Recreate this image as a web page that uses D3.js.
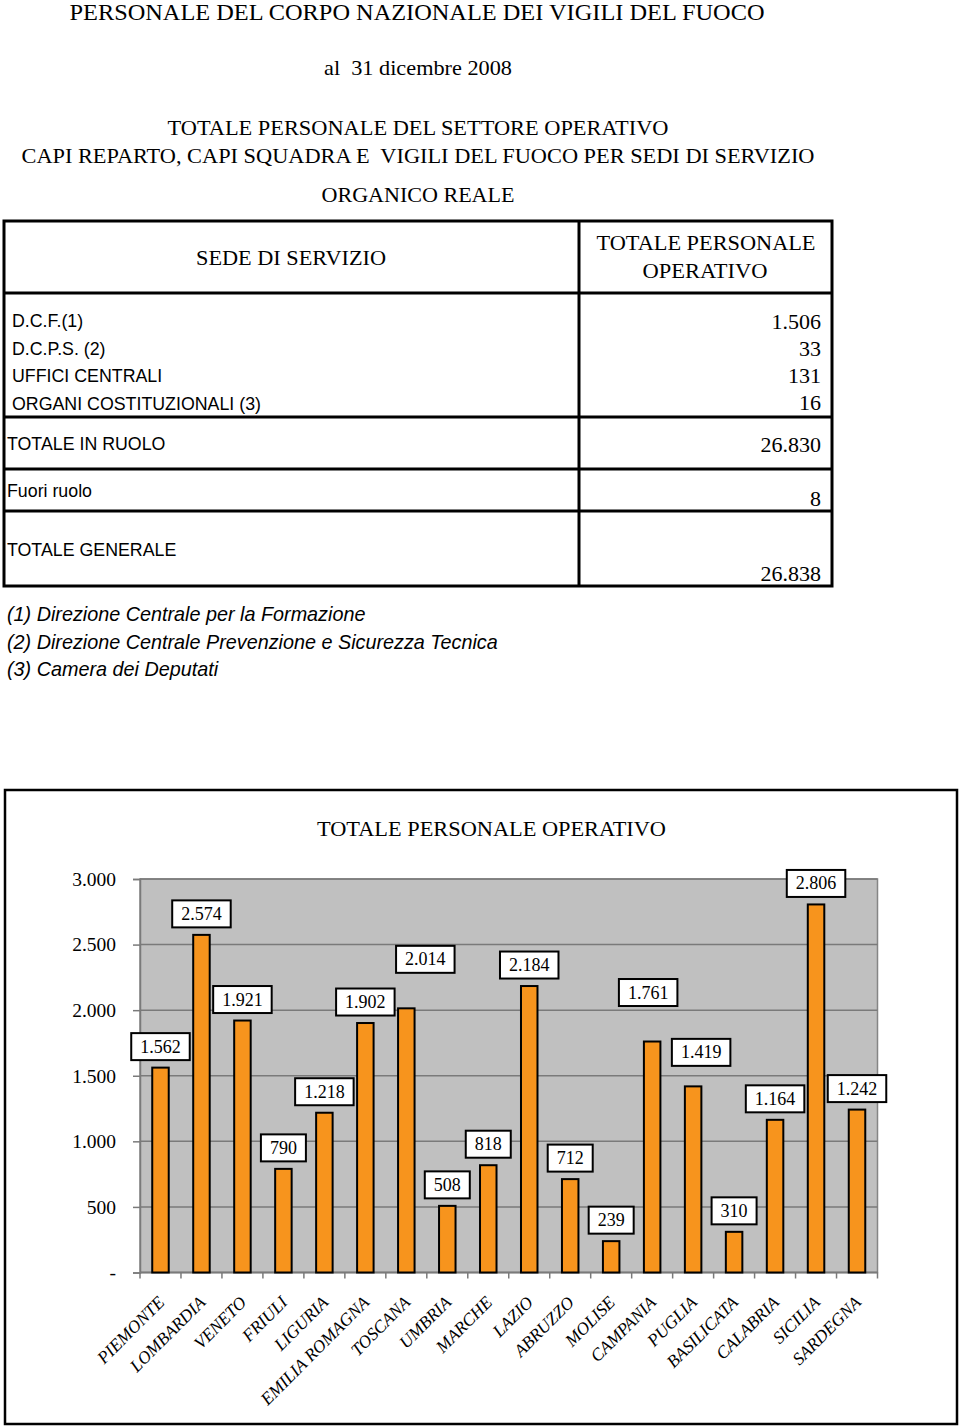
<!DOCTYPE html>
<html>
<head>
<meta charset="utf-8">
<script src="https://cdn.jsdelivr.net/npm/d3@7/dist/d3.min.js"></script>
<style>
  html, body { margin: 0; padding: 0; background: #fff; }
  svg { display: block; }
</style>
</head>
<body>
<div id="chart"></div>
<script>
// ---------------- DATA ----------------
const headingLines = [
  "PERSONALE DEL CORPO NAZIONALE DEI VIGILI DEL FUOCO",
  "al  31 dicembre 2008",
  "TOTALE PERSONALE DEL SETTORE OPERATIVO",
  "CAPI REPARTO, CAPI SQUADRA E  VIGILI DEL FUOCO PER SEDI DI SERVIZIO",
  "ORGANICO REALE"
];
const tableHeader = ["SEDE DI SERVIZIO", "TOTALE PERSONALE", "OPERATIVO"];
const sedi = ["D.C.F.(1)", "D.C.P.S. (2)", "UFFICI CENTRALI", "ORGANI COSTITUZIONALI (3)"];
const sediValori = [1506, 33, 131, 16];
const totaliEtichette = ["TOTALE IN RUOLO", "Fuori ruolo", "TOTALE GENERALE"];
const totaliValori = [26830, 8, 26838];
const noteLines = [
  "(1) Direzione Centrale per la Formazione",
  "(2) Direzione Centrale Prevenzione e Sicurezza Tecnica",
  "(3) Camera dei Deputati"
];

const chartTitle = "TOTALE PERSONALE OPERATIVO";
const regioni = ["PIEMONTE", "LOMBARDIA", "VENETO", "FRIULI", "LIGURIA", "EMILIA ROMAGNA",
  "TOSCANA", "UMBRIA", "MARCHE", "LAZIO", "ABRUZZO", "MOLISE", "CAMPANIA", "PUGLIA",
  "BASILICATA", "CALABRIA", "SICILIA", "SARDEGNA"];
const personale = [1562, 2574, 1921, 790, 1218, 1902, 2014, 508, 818, 2184, 712, 239,
  1761, 1419, 310, 1164, 2806, 1242];
const yTicks = [0, 500, 1000, 1500, 2000, 2500, 3000];

// ---------------- LAYOUT / STYLE ----------------
const W = 960, H = 1427;
const serif = "'Liberation Serif', 'Times New Roman', serif";
const sans = "'Liberation Sans', Arial, sans-serif";
const it = d3.formatLocale({decimal: ",", thousands: ".", grouping: [3], currency: ["€", ""]});
const fmt = v => v === 0 ? "-" : it.format(",d")(v);

// manual label placement (moved boxes in the original): extra dx, extra lift in px
const labelNudge = {"TOSCANA": [19, 28], "CAMPANIA": [-4, 28], "PUGLIA": [8, 13]};

const svg = d3.select("#chart").append("svg").attr("width", W).attr("height", H);

// ---- headings ----
const headingSpec = [
  {y: 20, size: 23, cx: 417, w: 695},
  {y: 75, size: 21, cx: 418, w: 188},
  {y: 135, size: 21, cx: 418, w: 501},
  {y: 163, size: 21, cx: 418, w: 793},
  {y: 202, size: 21, cx: 418, w: 193}
];
svg.append("g").selectAll("text").data(headingLines).join("text")
  .attr("x", (d, i) => headingSpec[i].cx)
  .attr("y", (d, i) => headingSpec[i].y)
  .attr("text-anchor", "middle")
  .attr("font-family", serif)
  .attr("font-size", (d, i) => headingSpec[i].size)
  .attr("textLength", (d, i) => headingSpec[i].w)
  .attr("lengthAdjust", "spacingAndGlyphs")
  .style("white-space", "pre")
  .attr("fill", "#000")
  .text(d => d);

// ---- table ----
const T = {x0: 4, x1: 832, xm: 579, y0: 221, yh: 293, ys: 417, yr: 469, yf: 511, y1: 586};
const tg = svg.append("g");
const lineSty = s => s.attr("stroke", "#000").attr("stroke-width", 3);
tg.append("rect").attr("x", T.x0).attr("y", T.y0).attr("width", T.x1 - T.x0).attr("height", T.y1 - T.y0)
  .attr("fill", "none").call(lineSty);
[T.yh, T.ys, T.yr, T.yf].forEach(y => tg.append("line").attr("x1", T.x0).attr("x2", T.x1).attr("y1", y).attr("y2", y).call(lineSty));
tg.append("line").attr("x1", T.xm).attr("x2", T.xm).attr("y1", T.y0).attr("y2", T.y1).call(lineSty);

tg.append("text").attr("x", 291).attr("y", 265).attr("text-anchor", "middle")
  .attr("font-family", serif).attr("font-size", 21).attr("textLength", 190).attr("lengthAdjust", "spacingAndGlyphs")
  .text(tableHeader[0]);
tg.append("text").attr("x", 706).attr("y", 250).attr("text-anchor", "middle")
  .attr("font-family", serif).attr("font-size", 21).attr("textLength", 219).attr("lengthAdjust", "spacingAndGlyphs")
  .text(tableHeader[1]);
tg.append("text").attr("x", 705).attr("y", 278).attr("text-anchor", "middle")
  .attr("font-family", serif).attr("font-size", 21).attr("textLength", 125).attr("lengthAdjust", "spacingAndGlyphs")
  .text(tableHeader[2]);

const rowY = [327, 355, 382, 410];
const valY = [329, 356, 383, 410];
tg.selectAll("text.sede").data(sedi).join("text").attr("class", "sede")
  .attr("x", 12).attr("y", (d, i) => rowY[i])
  .attr("font-family", sans).attr("font-size", 17.8)
  .text(d => d);
tg.selectAll("text.sv").data(sediValori).join("text").attr("class", "sv")
  .attr("x", 821).attr("y", (d, i) => valY[i]).attr("text-anchor", "end")
  .attr("font-family", serif).attr("font-size", 22)
  .text(d => fmt(d));

const totLabY = [450, 497, 556];
const totValY = [452, 506, 581];
tg.selectAll("text.tl").data(totaliEtichette).join("text").attr("class", "tl")
  .attr("x", 7).attr("y", (d, i) => totLabY[i])
  .attr("font-family", sans).attr("font-size", 17.8)
  .text(d => d);
tg.selectAll("text.tv").data(totaliValori).join("text").attr("class", "tv")
  .attr("x", 821).attr("y", (d, i) => totValY[i]).attr("text-anchor", "end")
  .attr("font-family", serif).attr("font-size", 22)
  .text(d => fmt(d));

svg.append("g").selectAll("text").data(noteLines).join("text")
  .attr("x", 7).attr("y", (d, i) => 621 + i * 27.5)
  .attr("font-family", sans).attr("font-size", 19.8).attr("font-style", "italic")
  .text(d => d);

// ---- chart ----
svg.append("rect").attr("x", 5).attr("y", 790).attr("width", 952).attr("height", 634)
  .attr("fill", "#fff").attr("stroke", "#000").attr("stroke-width", 2.5);

svg.append("text").attr("x", 491.5).attr("y", 836).attr("text-anchor", "middle")
  .attr("font-family", serif).attr("font-size", 22)
  .attr("textLength", 349).attr("lengthAdjust", "spacingAndGlyphs")
  .text(chartTitle);

const P = {left: 140, right: 877.5, top: 879, bottom: 1272.5};
const x = d3.scaleBand().domain(regioni).range([P.left, P.right]).paddingInner(0).paddingOuter(0);
const y = d3.scaleLinear().domain([0, 3000]).range([P.bottom, P.top]);

svg.append("rect").attr("x", P.left).attr("y", P.top).attr("width", P.right - P.left).attr("height", P.bottom - P.top)
  .attr("fill", "#c0c0c0").attr("stroke", "#858585").attr("stroke-width", 1.5);

// gridlines
svg.append("g").selectAll("line").data(yTicks).join("line")
  .attr("x1", P.left).attr("x2", P.right)
  .attr("y1", d => y(d)).attr("y2", d => y(d))
  .attr("stroke", "#7a7a7a").attr("stroke-width", 1.5);

// y axis
const yAxis = d3.axisLeft(y).tickValues(yTicks).tickSize(7).tickPadding(17).tickFormat(fmt);
const ya = svg.append("g").attr("transform", `translate(${P.left},0)`).call(yAxis);
ya.select(".domain").attr("stroke", "#7a7a7a").attr("stroke-width", 1.5);
ya.selectAll(".tick line").attr("stroke", "#7a7a7a").attr("stroke-width", 1.5);
ya.selectAll(".tick text").attr("font-family", serif).attr("font-size", 19.5).attr("fill", "#000");

// x axis ticks at category boundaries
const bounds = regioni.map(r => x(r)).concat([P.right]);
svg.append("g").selectAll("line").data(bounds).join("line")
  .attr("x1", d => d).attr("x2", d => d).attr("y1", P.bottom).attr("y2", P.bottom + 6)
  .attr("stroke", "#7a7a7a").attr("stroke-width", 1.5);
svg.append("line").attr("x1", P.left).attr("x2", P.right).attr("y1", P.bottom).attr("y2", P.bottom)
  .attr("stroke", "#7a7a7a").attr("stroke-width", 1.5);

// x labels
svg.append("g").selectAll("text").data(regioni).join("text")
  .attr("transform", d => `translate(${x(d) + x.bandwidth() / 2 + 5},${P.bottom + 31}) rotate(-45)`)
  .attr("text-anchor", "end")
  .attr("font-family", serif).attr("font-style", "italic").attr("font-size", 17.5)
  .text(d => d);

// bars
const barW = 16.5;
svg.append("g").selectAll("rect").data(personale).join("rect")
  .attr("x", (d, i) => x(regioni[i]) + x.bandwidth() / 2 - barW / 2)
  .attr("y", d => y(d))
  .attr("width", barW)
  .attr("height", d => y(0) - y(d))
  .attr("fill", "#f7941d").attr("stroke", "#000").attr("stroke-width", 2);

// data labels
const lg = svg.append("g");
personale.forEach((v, i) => {
  const r = regioni[i];
  const n = labelNudge[r] || [0, 0];
  const cx = x(r) + x.bandwidth() / 2 + n[0];
  const cy = y(v) - 21 - n[1];
  const g = lg.append("g");
  const t = g.append("text").attr("x", cx).attr("y", cy).attr("text-anchor", "middle")
    .attr("dominant-baseline", "central")
    .attr("font-family", serif).attr("font-size", 18).text(fmt(v));
  const tw = t.node().getComputedTextLength();
  g.insert("rect", "text")
    .attr("x", cx - tw / 2 - 9).attr("y", cy - 13.5)
    .attr("width", tw + 18).attr("height", 27)
    .attr("fill", "#fff").attr("stroke", "#000").attr("stroke-width", 2);
});
</script>
</body>
</html>
